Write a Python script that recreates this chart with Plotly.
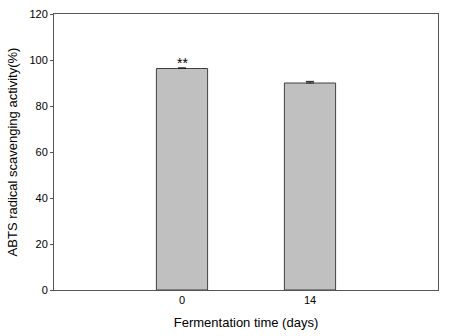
import plotly.graph_objects as go

categories = ["0", "14"]
values = [96.3, 90.0]
errors = [0.3, 0.7]
positions = [1, 2]
annot_text = ["**", ""]

fig = go.Figure()
fig.add_trace(go.Bar(
    x=positions, y=values, width=0.4,
    marker=dict(color="#c0c0c0", line=dict(color="#404040", width=1)),
    error_y=dict(type="data", array=errors, color="#202020", thickness=1, width=4, symmetric=False, arrayminus=[0, 0]),
))
for p, v, e, t in zip(positions, values, errors, annot_text):
    if t:
        fig.add_annotation(x=p, y=v + e, text=t, showarrow=False, yanchor="bottom", yshift=-5,
                           font=dict(size=14, color="#000", family="Liberation Sans"))

fig.update_layout(
    width=449, height=336, margin=dict(l=54, r=11, t=14, b=46),
    plot_bgcolor="white", paper_bgcolor="white", showlegend=False,
    font=dict(family="Liberation Sans, Arial", color="#000"),
    xaxis=dict(range=[0, 3], tickvals=positions, ticktext=categories, showgrid=False, zeroline=False,
               showline=True, linecolor="#555", linewidth=1, mirror=True, ticks="", tickfont=dict(size=11),
               automargin=False,
               title=dict(text="Fermentation time (days)", font=dict(size=13), standoff=12)),
    yaxis=dict(range=[0, 120], tickvals=[0, 20, 40, 60, 80, 100, 120], showgrid=False, zeroline=False,
               showline=True, linecolor="#555", linewidth=1, mirror=True, ticks="outside", ticklen=3,
               tickcolor="#555", tickfont=dict(size=11), automargin=False,
               title=dict(text="ABTS radical scavenging activity(%)", font=dict(size=13), standoff=8)),
)
fig.write_html("out.html")
